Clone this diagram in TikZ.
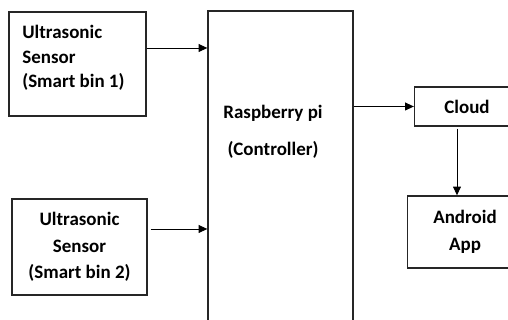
\documentclass[tikz,border=0pt]{standalone}
\usepackage{fontspec}
\setmainfont{Carlito}
\usepackage{tikz}
\usetikzlibrary{positioning,arrows.meta}

\begin{document}
\begin{tikzpicture}[x=0.02cm, y=-0.02cm,
    every node/.style={font=\bfseries\fontsize{10.8}{14}\selectfont},
    blk/.style={draw=black!85, line width=0.75pt, inner sep=0pt, align=center},
    txt/.style={inner sep=0pt, align=center},
    arr/.style={-{Triangle[length=5pt, width=4.5pt]}, line width=0.55pt}]
  \useasboundingbox (0,0) rectangle (508,320);
  \clip (0,0) rectangle (508,320);
  % sensors
  \node[blk, minimum width=2.74cm, minimum height=2.08cm] (s1) at (77.5,64) {};
  \node[txt, align=left, anchor=north west] (s1t) at (22,25) {Ultrasonic\\Sensor\\(Smart bin 1)};
  \node[blk, minimum width=2.7cm, minimum height=1.92cm,
        font=\bfseries\fontsize{10.8}{15}\selectfont] (s2) at (79.5,247)
    {Ultrasonic\\Sensor\\(Smart bin 2)};
  % controller
  \node[blk, minimum width=2.9cm, minimum height=6.6cm] (rpi) at (280.5,176) {};
  \node[txt] (rpit) at (273,132) {Raspberry pi\\[7pt](Controller)};
  % cloud side
  \node[blk, minimum width=2.1cm, minimum height=0.78cm] (cloud) at (467,106.5) {Cloud};
  \node[blk, minimum width=2.3cm, minimum height=1.44cm,
        font=\bfseries\fontsize{10.8}{15.5}\selectfont] (app) at (465,232) {Android\\App};
  \draw[arr] (s1.east |- 0,48) -- (rpi.west |- 0,48);
  \draw[arr] (s2.east |- 0,229) ++(3,0) -- (rpi.west |- 0,229);
  \draw[arr] (rpi.east |- cloud.west) -- (cloud.west);
  \draw[arr] (cloud.south -| 457,0) ++(0,2) -- (app.north -| 457,0);
\end{tikzpicture}
\end{document}
